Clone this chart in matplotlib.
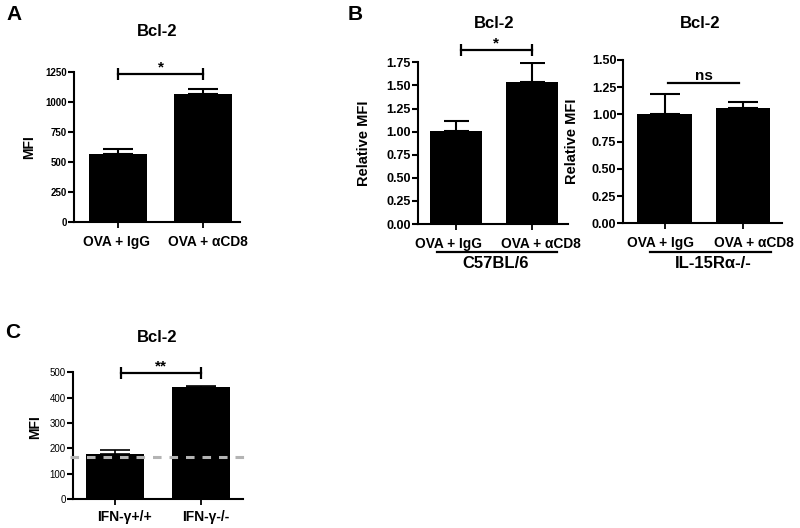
import numpy as np
import matplotlib
matplotlib.use("Agg")
import matplotlib.pyplot as plt
import matplotlib.transforms as mtransforms
from matplotlib.lines import Line2D

plt.rcParams['font.family'] = ['Liberation Sans', 'DejaVu Sans']
plt.rcParams['font.weight'] = 'bold'
plt.rcParams['axes.labelweight'] = 'bold'

W, H = 800, 528

# --- datos ---------------------------------------------------------------
grupos_ova = ['OVA + IgG', 'OVA + αCD8']
grupos_ifn = ['IFN-γ+/+', 'IFN-γ-/-']

a_media = [565, 1065]
a_error = [42, 40]

b1_media = [1.005, 1.54]
b1_error = [0.115, 0.20]

b2_media = [1.004, 1.056]
b2_error = [0.184, 0.061]

c_media = [178, 443]
c_error = [15, 3]
c_basal = 167

a_ticks = [0, 250, 500, 750, 1000, 1250]
b1_ticks = [0.00, 0.25, 0.50, 0.75, 1.00, 1.25, 1.50, 1.75]
b2_ticks = [0.00, 0.25, 0.50, 0.75, 1.00, 1.25, 1.50]
c_ticks = [0, 100, 200, 300, 400, 500]


def ejes_px(fig, izq, arriba, der, abajo):
    return fig.add_axes([izq / W, 1 - abajo / H, (der - izq) / W, (abajo - arriba) / H])


def estilo(ax, xlim, ylim, yticks, fmt, ysize, yweight='bold'):
    ax.set_xlim(*xlim)
    ax.set_ylim(*ylim)
    for s in ['top', 'right']:
        ax.spines[s].set_visible(False)
    for s in ['left', 'bottom']:
        ax.spines[s].set_linewidth(1.5)
    ax.set_yticks(yticks)
    ax.set_yticklabels([fmt.format(v) for v in yticks], fontsize=ysize, fontweight=yweight)
    ax.tick_params(axis='y', direction='out', length=4, width=1.5, pad=1)
    ax.tick_params(axis='x', direction='out', length=4, width=1.3)


def etiquetas_x(ax, fig, nombres, size, pad, desplaz):
    ax.set_xticks(np.arange(len(nombres)))
    ax.set_xticklabels(nombres, fontsize=size)
    ax.tick_params(axis='x', pad=pad)
    # Prism separa un poco las etiquetas respecto a las marcas
    for lab, dx in zip(ax.get_xticklabels(), desplaz):
        off = mtransforms.ScaledTranslation(dx / 100, 0, fig.dpi_scale_trans)
        lab.set_transform(lab.get_transform() + off)


def barras(ax, medias, errores, ancho, cap, lw=1.5):
    x = np.arange(len(medias))
    ax.bar(x, medias, ancho, color='black', zorder=2)
    ax.errorbar(x, medias, yerr=[np.zeros(len(errores)), errores], fmt='none',
                ecolor='black', elinewidth=lw, capsize=cap, capthick=lw, zorder=1)
    return x


def significancia(ax, x1, x2, y, texto, caps=True, tsize=11):
    ax.plot([x1, x2], [y, y], color='black', lw=1.6,
            marker='|' if caps else None, ms=8, mew=1.6, clip_on=False)
    ax.text((x1 + x2) / 2, y, texto, ha='center', va='bottom', fontsize=tsize, clip_on=False)


fig = plt.figure(figsize=(W / 100, H / 100), dpi=100)

# --- A -----------------------------------------------------------------
ax = ejes_px(fig, 74, 71.7, 240, 222.3)
barras(ax, a_media, a_error, 0.68, 10.8)
estilo(ax, (-0.52, 1.43), (0, 1250), a_ticks, '{:d}', 7)
etiquetas_x(ax, fig, grupos_ova, 9.9, 5, [-2, 4])
ax.set_ylabel('MFI', fontsize=10)
ax.yaxis.set_label_coords(-0.23, 0.5)
significancia(ax, 0, 1, 1231, '*')
fig.text(157 / W, 1 - 32 / H, 'Bcl-2', fontsize=12, ha='center', va='center')
fig.text(14 / W, 1 - 15 / H, 'A', fontsize=15, ha='center', va='center')

# --- B (C57BL/6) ----------------------------------------------------------
ax = ejes_px(fig, 418, 62.3, 568, 224)
barras(ax, b1_media, b1_error, 0.69, 9)
estilo(ax, (-0.51, 1.48), (0, 1.75), b1_ticks, '{:.2f}', 9)
etiquetas_x(ax, fig, grupos_ova, 9.9, 5, [-8, 9])
ax.set_ylabel('Relative MFI', fontsize=10.5)
ax.yaxis.set_label_coords(-0.31, 0.5)
significancia(ax, 0.06, 1, 1.883, '*')
fig.text(494 / W, 1 - 23 / H, 'Bcl-2', fontsize=12, ha='center', va='center')
fig.text(355 / W, 1 - 15 / H, 'B', fontsize=15, ha='center', va='center')
fig.add_artist(Line2D([437 / W, 557 / W], [1 - 251.7 / H] * 2, color='black', lw=1.6))
fig.text(496 / W, 1 - 264 / H, 'C57BL/6', fontsize=12, ha='center', va='center')

# --- B (IL-15Ra-/-) -------------------------------------------------------
ax = ejes_px(fig, 623.3, 60, 781.7, 223.3)
barras(ax, b2_media, b2_error, 0.69, 10.8)
estilo(ax, (-0.525, 1.49), (0, 1.5), b2_ticks, '{:.2f}', 9)
etiquetas_x(ax, fig, grupos_ova, 9.9, 5, [-4, 11])
ax.set_ylabel('Relative MFI', fontsize=10.5)
ax.yaxis.set_label_coords(-0.28, 0.5)
significancia(ax, 0.04, 0.95, 1.286, 'ns', caps=False, tsize=11)
fig.text(700 / W, 1 - 23 / H, 'Bcl-2', fontsize=12, ha='center', va='center')
fig.add_artist(Line2D([650 / W, 770.7 / W], [1 - 251.7 / H] * 2, color='black', lw=1.6))
fig.text(713 / W, 1 - 264 / H, 'IL-15Rα-/-', fontsize=12, ha='center', va='center')

# --- C -----------------------------------------------------------------
ax = ejes_px(fig, 72.7, 372.3, 243, 499)
barras(ax, c_media, c_error, 0.68, 10.5, lw=1.2)
estilo(ax, (-0.49, 1.49), (0, 500), c_ticks, '{:d}', 7, yweight='normal')
etiquetas_x(ax, fig, grupos_ifn, 10, 4, [10, 5])
ax.set_ylabel('MFI', fontsize=10)
ax.yaxis.set_label_coords(-0.18, 0.57)
ax.plot([-0.52, 1.51], [c_basal, c_basal], color='#b4b4b4', lw=2.2,
        linestyle=(0, (2.8, 2.6)), zorder=3, clip_on=False)
significancia(ax, 0.07, 1.0, 496, '**')
fig.text(157 / W, 1 - 337 / H, 'Bcl-2', fontsize=12, ha='center', va='center')
fig.text(13 / W, 1 - 332 / H, 'C', fontsize=15, ha='center', va='center')

fig.savefig('out.png', dpi=100)
